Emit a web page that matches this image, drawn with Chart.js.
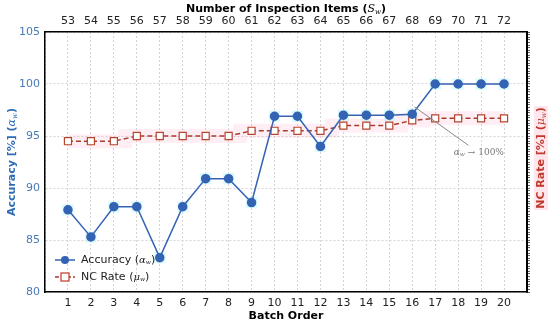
<!DOCTYPE html>
<html lang="en">
  <head>
    <meta charset="UTF-8" />
    <title>Accuracy and NC Rate</title>
    <script src="https://cdn.jsdelivr.net/npm/chart.js"></script>
    <style>
      body { margin: 0; background: #fff; }
      #wrap { width: 550px; height: 325px; }
    </style>
  </head>
  <body>
    <div id="wrap"><canvas id="chart" width="550" height="325"></canvas></div>

    <script>
      let batches = [1, 2, 3, 4, 5, 6, 7, 8, 9, 10, 11, 12, 13, 14, 15, 16, 17, 18, 19, 20];
      let items = [53, 54, 55, 56, 57, 58, 59, 60, 61, 62, 63, 64, 65, 66, 67, 68, 69, 70, 71, 72];

      let accuracy = [87.9, 85.3, 88.2, 88.2, 83.3, 88.2, 90.9, 90.9, 88.6, 96.9,
                      96.9, 94.0, 97.0, 97.0, 97.0, 97.1, 100, 100, 100, 100];
      let ncRate = [94.5, 94.5, 94.5, 95.0, 95.0, 95.0, 95.0, 95.0, 95.5, 95.5,
                    95.5, 95.5, 96.0, 96.0, 96.0, 96.5, 96.7, 96.7, 96.7, 96.7];

      let yTicks = [80, 85, 90, 95, 100, 105];

      const FONT = 'DejaVu Sans';
      const BLUE = '#3463b3';
      const RED = '#a63d2c';

      function pts(vals) {
        return batches.map((b, i) => ({ x: b, y: vals[i] }));
      }

      // draw a sequence of text runs (for subscripts), centred on 0,0
      function drawRuns(ctx, runs, color) {
        let w = 0;
        runs.forEach(r => { ctx.font = r.font; r.w = ctx.measureText(r.t).width; w += r.w; });
        let x = -w / 2;
        ctx.fillStyle = color;
        ctx.textBaseline = 'middle';
        ctx.textAlign = 'left';
        runs.forEach(r => {
          ctx.font = r.font;
          ctx.fillText(r.t, x, r.dy || 0);
          x += r.w;
        });
        return w;
      }

      function drawLeft(ctx, runs) {
        let x = 0;
        ctx.fillStyle = '#222';
        ctx.textBaseline = 'middle';
        ctx.textAlign = 'left';
        runs.forEach(r => {
          ctx.font = r.font;
          ctx.fillText(r.t, x, r.dy || 0);
          x += ctx.measureText(r.t).width;
        });
      }

      const decor = {
        id: 'decor',
        afterDraw(chart) {
          const ctx = chart.ctx;
          const a = chart.chartArea;
          const xs = chart.scales.x;
          const ys = chart.scales.y;
          const B = 'bold 11px ' + FONT;
          const M = 'italic 11px DejaVu Serif';
          const S = 'italic 7px DejaVu Serif';

          // top title
          ctx.save();
          ctx.translate((a.left + a.right) / 2, 9);
          drawRuns(ctx, [
            { t: 'Number of Inspection Items (', font: B },
            { t: 'S', font: M },
            { t: 'w', font: S, dy: 3 },
            { t: ')', font: B }
          ], '#000');
          ctx.restore();

          // bottom title
          ctx.save();
          ctx.translate((a.left + a.right) / 2, 316);
          drawRuns(ctx, [{ t: 'Batch Order', font: B }], '#000');
          ctx.restore();

          // left title
          ctx.save();
          ctx.translate(12, 162);
          ctx.rotate(-Math.PI / 2);
          drawRuns(ctx, [
            { t: 'Accuracy [%] (', font: B },
            { t: 'α', font: M },
            { t: 'w', font: S, dy: 3 },
            { t: ')', font: B }
          ], '#2f6db5');
          ctx.restore();

          // right title with pink box
          ctx.save();
          ctx.translate(541, 158);
          ctx.rotate(-Math.PI / 2);
          ctx.fillStyle = 'rgba(255, 220, 230, 0.7)';
          ctx.fillRect(-52, -7, 104, 14);
          drawRuns(ctx, [
            { t: 'NC Rate [%] (', font: B },
            { t: 'μ', font: M },
            { t: 'w', font: S, dy: 3 },
            { t: ')', font: B }
          ], '#c0392b');
          ctx.restore();

          // annotation
          ctx.save();
          ctx.strokeStyle = '#888';
          ctx.lineWidth = 1;
          ctx.beginPath();
          ctx.moveTo(xs.getPixelForValue(16.1), ys.getPixelForValue(97.8));
          ctx.lineTo(xs.getPixelForValue(18.45), ys.getPixelForValue(94.1));
          ctx.stroke();
          ctx.translate(xs.getPixelForValue(18.9), ys.getPixelForValue(93.4));
          drawRuns(ctx, [
            { t: 'α', font: 'italic 9px DejaVu Serif' },
            { t: 'w', font: 'italic 6px DejaVu Serif', dy: 2 },
            { t: ' → 100%', font: '9px DejaVu Serif' }
          ], '#777');
          ctx.restore();

          // legend
          ctx.save();
          const lx = a.left + 10, ly1 = 260, ly2 = 277;
          ctx.strokeStyle = BLUE;
          ctx.lineWidth = 1.5;
          ctx.beginPath(); ctx.moveTo(lx, ly1); ctx.lineTo(lx + 20, ly1); ctx.stroke();
          ctx.fillStyle = BLUE;
          ctx.beginPath(); ctx.arc(lx + 10, ly1, 4, 0, Math.PI * 2); ctx.fill();
          ctx.strokeStyle = RED;
          ctx.setLineDash([4, 2]);
          ctx.beginPath(); ctx.moveTo(lx, ly2); ctx.lineTo(lx + 20, ly2); ctx.stroke();
          ctx.setLineDash([]);
          ctx.fillStyle = '#fff';
          ctx.fillRect(lx + 6, ly2 - 4, 8, 8);
          ctx.strokeStyle = '#c0392b';
          ctx.lineWidth = 1.2;
          ctx.strokeRect(lx + 6, ly2 - 4, 8, 8);
          ctx.translate(lx + 26, 0);
          ctx.save(); ctx.translate(0, ly1);
          drawLeft(ctx, [
            { t: 'Accuracy (', font: '11px ' + FONT },
            { t: 'α', font: 'italic 10px DejaVu Serif' },
            { t: 'w', font: 'italic 6px DejaVu Serif', dy: 2 },
            { t: ')', font: '11px ' + FONT }
          ]);
          ctx.restore();
          ctx.save(); ctx.translate(0, ly2);
          drawLeft(ctx, [
            { t: 'NC Rate (', font: '11px ' + FONT },
            { t: 'μ', font: 'italic 10px DejaVu Serif' },
            { t: 'w', font: 'italic 6px DejaVu Serif', dy: 2 },
            { t: ')', font: '11px ' + FONT }
          ]);
          ctx.restore();
          ctx.restore();
        }
      };

      const config = {
        type: 'line',
        data: {
          datasets: [
            {
              label: 'Accuracy',
              data: pts(accuracy),
              borderColor: BLUE,
              backgroundColor: BLUE,
              borderWidth: 1.5,
              pointRadius: 4,
              pointHoverRadius: 4,
              yAxisID: 'y',
              order: 0
            },
            {
              label: 'NC Rate',
              data: pts(ncRate),
              borderColor: RED,
              backgroundColor: '#fff',
              pointBorderColor: '#b5452f',
              borderWidth: 1.5,
              borderDash: [5, 3],
              pointStyle: 'rect',
              pointRadius: 5,
              pointBorderWidth: 1.2,
              yAxisID: 'y2',
              order: 1
            },
            {
              label: 'acc glow',
              data: pts(accuracy),
              showLine: false,
              pointStyle: 'rect',
              pointRadius: 8,
              pointBorderWidth: 0,
              borderColor: 'rgba(0, 0, 0, 0)',
              backgroundColor: 'rgba(190, 245, 252, 0.55)',
              yAxisID: 'y',
              order: 5
            },
            {
              label: 'nc band',
              data: pts(ncRate),
              borderColor: 'rgba(255, 150, 190, 0.15)',
              borderWidth: 14,
              stepped: 'middle',
              pointRadius: 0,
              yAxisID: 'y2',
              order: 6
            }
          ]
        },
        options: {
          responsive: false,
          animation: false,
          events: [],
          layout: { padding: 0 },
          plugins: { legend: { display: false }, tooltip: { enabled: false } },
          scales: {
            x: {
              type: 'linear',
              position: 'bottom',
              min: 0,
              max: 21,
              afterFit: s => { s.height = 33; },
              afterBuildTicks: s => { s.ticks = [0].concat(batches, [21]).map(v => ({ value: v })); },
              ticks: {
                autoSkip: false,
                padding: 5,
                color: '#222',
                font: { family: FONT, size: 11 },
                callback: v => (batches.includes(v) ? String(v) : '')
              },
              grid: { color: '#d4d4d4', drawTicks: false },
              border: { color: '#000', width: 1.5, dash: [2, 2] }
            },
            x2: {
              type: 'linear',
              position: 'top',
              min: 0,
              max: 21,
              afterFit: s => { s.height = 32; },
              afterBuildTicks: s => { s.ticks = batches.map(v => ({ value: v })); },
              ticks: {
                autoSkip: false,
                padding: 4,
                color: '#222',
                font: { family: FONT, size: 11 },
                callback: v => String(items[batches.indexOf(v)])
              },
              grid: { drawOnChartArea: false, drawTicks: false },
              border: { color: '#000', width: 1.5 }
            },
            y: {
              position: 'left',
              min: 80,
              max: 105,
              afterFit: s => { s.width = 45; },
              afterBuildTicks: s => { s.ticks = yTicks.map(v => ({ value: v })); },
              ticks: {
                padding: 5,
                color: '#4a78b5',
                font: { family: FONT, size: 11 }
              },
              grid: { color: '#d4d4d4', drawTicks: false },
              border: { color: '#000', width: 1.5, dash: [2, 2] }
            },
            y2: {
              position: 'right',
              min: 80,
              max: 105,
              afterFit: s => { s.width = 23; },
              ticks: {
                stepSize: 0.25,
                autoSkip: false,
                padding: 0,
                callback: () => ''
              },
              grid: { drawOnChartArea: false, drawTicks: true, tickLength: 3, color: '#000', lineWidth: 0.6 },
              border: { color: '#000', width: 2 }
            }
          }
        },
        plugins: [decor]
      };

      var chart = new Chart(document.getElementById('chart'), config);
    </script>
  </body>
</html>
